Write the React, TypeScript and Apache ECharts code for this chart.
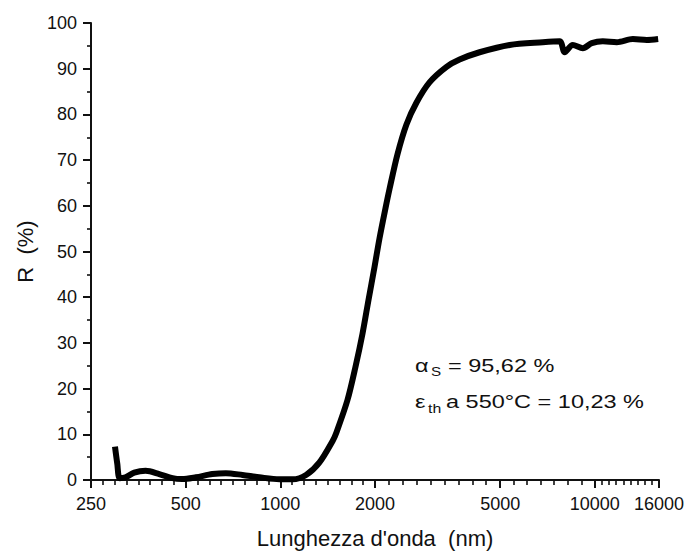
import React, { useEffect, useRef } from "react";
import * as echarts from "echarts";

// Reflectance spectrum
const wavelengthNm = [
  298, 303, 308.5, 322, 343, 373, 412, 454, 487, 539, 608, 671, 758, 857, 993,
  1094, 1207, 1330, 1468, 1508, 1635, 1733, 1825, 1907, 1993, 2066, 2160, 2223,
  2358, 2518, 2711, 2981, 3377, 3715, 4302, 5358, 6830, 7735, 8020, 8510, 9160,
  9780, 10600, 11750, 13210, 14640, 15900,
];
const reflectancePct = [
  7.3, 3.6, 0.4, 0.6, 1.6, 2.0, 1.3, 0.4, 0.2, 0.6, 1.3, 1.5, 1.1, 0.6, 0.15,
  0.15, 1.1, 3.8, 8.6, 10.4, 17.5, 24.7, 32, 39.4, 46.6, 52.8, 59.5, 63.6, 71.3,
  77.8, 82.6, 87.0, 90.4, 92.0, 93.6, 95.2, 95.8, 96.0, 93.6, 95.2, 94.5, 95.6,
  96.0, 95.8, 96.5, 96.3, 96.5,
];

// Axis ticks
const xTickValues = [250, 500, 1000, 2000, 5000, 10000, 16000];
const xMinorIntervalsPerSegment = [8, 8, 8, 9, 7, 9];
const yMin = 0;
const yMax = 100;
const yInterval = 10;

// Annotation texts
const alphaSymbol = "α";
const alphaSub = "S";
const alphaText = "= 95,62 %";
const epsSymbol = "ε";
const epsSub = "th";
const epsText = "a 550°C = 10,23 %";

const xAxisName = "Lunghezza d'onda  (nm)";
const yAxisName = "R  (%)";

const FONT = "'Liberation Sans', Arial, Helvetica, sans-serif";
const INK = "#111111";

export default function App() {
  const ref = useRef<HTMLDivElement>(null);

  useEffect(() => {
    if (!ref.current) return;
    const chart = echarts.init(ref.current, null, { renderer: "svg" });
    const lg = (v: number) => Math.log10(v);
    const xMin = xTickValues[0];
    const xMax = xTickValues[xTickValues.length - 1];

    const majorPos = xTickValues.map(lg);
    const minorPos: number[] = [];
    for (let i = 0; i < xTickValues.length - 1; i++) {
      const a = majorPos[i];
      const b = majorPos[i + 1];
      const n = xMinorIntervalsPerSegment[i];
      for (let k = 1; k < n; k++) minorPos.push(a + ((b - a) * k) / n);
    }

    const seriesData = wavelengthNm.map((w, i) => [w, reflectancePct[i]]);

    const textStyle = (size: number) => ({
      fontSize: size,
      fontFamily: FONT,
      fill: INK,
      align: "left",
      verticalAlign: "middle",
      textAlign: "left",
      textVerticalAlign: "middle",
    });
    const sx = 1.27;

    chart.setOption({
      animation: false,
      backgroundColor: "#ffffff",
      grid: {
        left: 91,
        right: 29,
        top: 23,
        bottom: 74,
        containLabel: false,
        outerBoundsMode: "none",
      },
      xAxis: [
        {
          type: "log",
          logBase: 10,
          min: xMin,
          max: xMax,
          position: "bottom",
          axisLine: { show: true, onZero: false, lineStyle: { color: INK, width: 2 } },
          axisTick: { show: false },
          axisLabel: { show: false },
          splitLine: { show: false },
          name: xAxisName,
          nameLocation: "middle",
          nameGap: 47,
          nameTextStyle: { fontSize: 22, fontFamily: FONT, color: INK },
        },
        {
          type: "value",
          min: lg(xMin),
          max: lg(xMax),
          position: "bottom",
          axisLine: { show: false, onZero: false },
          axisTick: {
            show: true,
            customValues: majorPos,
            length: 8,
            lineStyle: { color: INK, width: 2 },
          },
          axisLabel: {
            show: true,
            customValues: majorPos,
            margin: 15,
            fontSize: 18,
            fontFamily: FONT,
            color: INK,
            formatter: (v: number) => String(Math.round(Math.pow(10, v))),
          },
          splitLine: { show: false },
        },
        {
          type: "value",
          min: lg(xMin),
          max: lg(xMax),
          position: "bottom",
          axisLine: { show: false, onZero: false },
          axisTick: {
            show: true,
            customValues: minorPos,
            length: 5,
            lineStyle: { color: INK, width: 1.6 },
          },
          axisLabel: { show: false },
          splitLine: { show: false },
        },
      ],
      yAxis: {
        type: "value",
        min: yMin,
        max: yMax,
        interval: yInterval,
        axisLine: { show: true, lineStyle: { color: INK, width: 2 } },
        axisTick: { show: true, length: 8, lineStyle: { color: INK, width: 2 } },
        minorTick: { show: true, splitNumber: 2, length: 4, lineStyle: { color: INK, width: 1.6 } },
        axisLabel: { margin: 14, fontSize: 18, fontFamily: FONT, color: INK },
        splitLine: { show: false },
        name: yAxisName,
        nameLocation: "middle",
        nameGap: 54,
        nameTextStyle: { fontSize: 22, fontFamily: FONT, color: INK },
      },
      series: [
        {
          type: "line",
          xAxisIndex: 0,
          data: seriesData,
          showSymbol: false,
          symbol: "none",
          smooth: 0.3,
          lineStyle: { color: "#000000", width: 6, cap: "butt", join: "round" },
          silent: true,
        },
      ],
      graphic: [
        { type: "text", x: 415, y: 365, scaleX: sx, style: { text: alphaSymbol, ...textStyle(18.5) } },
        { type: "text", x: 431, y: 372.5, scaleX: sx, style: { text: alphaSub, ...textStyle(12) } },
        { type: "text", x: 448, y: 365, scaleX: sx, style: { text: alphaText, ...textStyle(18.5) } },
        { type: "text", x: 415, y: 401.7, scaleX: sx, style: { text: epsSymbol, ...textStyle(18.5) } },
        { type: "text", x: 428, y: 409, scaleX: sx, style: { text: epsSub, ...textStyle(12.5) } },
        { type: "text", x: 446, y: 401.7, scaleX: sx, style: { text: epsText, ...textStyle(18.5) } },
      ],
    });

    return () => chart.dispose();
  }, []);

  return (
    <div
      ref={ref}
      style={{ position: "absolute", left: 0, top: 0, width: 688, height: 554, background: "#fff" }}
    />
  );
}
